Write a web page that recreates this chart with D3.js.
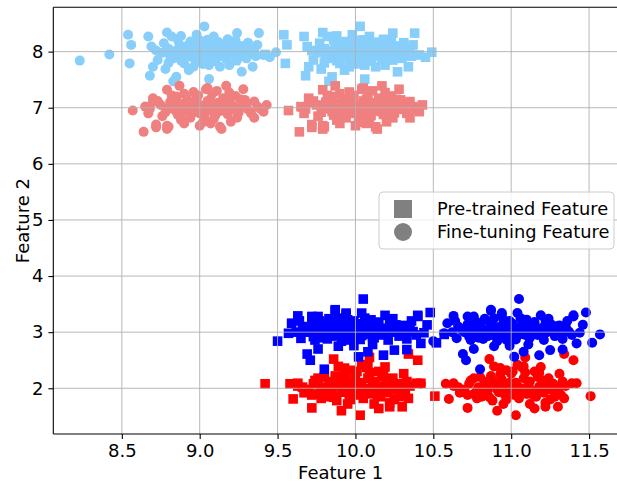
<!DOCTYPE html>
<html><head><meta charset="utf-8">
<script src="https://cdn.jsdelivr.net/npm/d3@7"></script>
<style>body{margin:0;background:#fff}svg{display:block}text{font-family:"DejaVu Sans",sans-serif}</style>
</head><body><svg id="c" width="617" height="483"></svg>
<script>
const xTicks = [8.5, 9.0, 9.5, 10.0, 10.5, 11.0, 11.5];
const yTicks = [2, 3, 4, 5, 6, 7, 8];
const legendLabels = ["Pre-trained Feature", "Fine-tuning Feature"];

const lsCircles = [[8.23,7.84],[8.42,7.95],[8.54,8.30],[8.56,8.12],[8.55,7.79],[8.67,8.27],[8.68,7.57],[8.69,8.09],[8.70,7.73],[8.79,8.34],[8.78,7.69],[8.82,8.27],[8.83,7.88],[8.85,7.55],[8.83,7.47],[8.92,8.09],[8.90,7.79],[8.98,8.30],[9.03,8.45],[9.06,7.51],[8.93,7.67],[9.00,7.94],[9.09,8.27],[9.13,7.73],[9.19,7.76],[9.24,8.33],[9.20,8.15],[9.27,7.64],[9.29,8.09],[9.34,7.73],[9.38,8.33],[9.37,8.12],[9.41,7.94],[9.45,7.90],[9.49,7.99],
[8.76,7.98],[8.80,8.05],[8.84,7.93],[8.87,8.12],[8.88,7.84],[8.91,8.00],[8.94,8.18],[8.95,7.90],[8.97,8.06],[8.99,7.82],[9.01,8.12],[9.02,8.00],[9.04,7.88],[9.05,8.21],[9.07,7.96],[9.08,8.08],[9.10,7.83],[9.11,8.02],[9.12,8.17],[9.14,7.92],[9.15,8.05],[9.17,7.87],[9.18,8.22],[9.21,7.98],[9.22,8.06],[9.24,7.85],[9.26,8.02],[9.28,7.93],[9.31,8.16],[9.33,7.97],[8.86,8.21],[8.81,7.92],[9.06,7.76],[8.96,7.73],[9.16,8.12],[9.09,7.92],[8.98,8.00],[9.03,8.16],[9.20,7.89],[9.35,8.03],[8.73,7.85],[8.89,7.96],
[8.72,8.02],[8.77,8.15],[8.80,7.80],[8.85,8.02],[8.88,8.28],[8.90,7.90],[8.93,8.12],[8.95,8.00],[8.97,7.95],[9.00,8.20],[9.02,7.78],[9.04,8.05],[9.07,8.13],[9.09,7.86],[9.11,7.96],[9.13,8.10],[9.16,7.98],[9.19,8.04],[9.23,8.20],[9.25,7.92],[9.27,8.10],[9.30,7.88],[9.32,8.05],[9.36,7.92],[8.99,8.08]];

const lsSquares = [[9.23,7.84],[9.42,7.95],[9.54,8.30],[9.56,8.12],[9.55,7.79],[9.67,8.27],[9.68,7.57],[9.69,8.09],[9.70,7.73],[9.79,8.34],[9.78,7.69],[9.82,8.27],[9.83,7.88],[9.85,7.55],[9.83,7.47],[9.92,8.09],[9.90,7.79],[9.98,8.30],[10.03,8.45],[10.06,7.51],[9.93,7.67],[10.00,7.94],[10.09,8.27],[10.13,7.73],[10.19,7.76],[10.24,8.33],[10.20,8.15],[10.27,7.64],[10.29,8.09],[10.34,7.73],[10.38,8.33],[10.37,8.12],[10.41,7.94],[10.45,7.90],[10.49,7.99],
[9.76,7.98],[9.80,8.05],[9.84,7.93],[9.87,8.12],[9.88,7.84],[9.91,8.00],[9.94,8.18],[9.95,7.90],[9.97,8.06],[9.99,7.82],[10.01,8.12],[10.02,8.00],[10.04,7.88],[10.05,8.21],[10.07,7.96],[10.08,8.08],[10.10,7.83],[10.11,8.02],[10.12,8.17],[10.14,7.92],[10.15,8.05],[10.17,7.87],[10.18,8.22],[10.21,7.98],[10.22,8.06],[10.24,7.85],[10.26,8.02],[10.28,7.93],[10.31,8.16],[10.33,7.97],[9.86,8.21],[9.81,7.92],[10.06,7.76],[9.96,7.73],[10.16,8.12],[10.09,7.92],[9.98,8.00],[10.03,8.16],[10.20,7.89],[10.35,8.03],[9.73,7.85],[9.89,7.96],
[9.72,8.02],[9.77,8.15],[9.80,7.80],[9.85,8.02],[9.88,8.28],[9.90,7.90],[9.93,8.12],[9.95,8.00],[9.97,7.95],[10.00,8.20],[10.02,7.78],[10.04,8.05],[10.07,8.13],[10.09,7.86],[10.11,7.96],[10.13,8.10],[10.16,7.98],[10.19,8.04],[10.23,8.20],[10.25,7.92],[10.27,8.10],[10.30,7.88],[10.32,8.05],[10.36,7.92],[9.99,8.08]];

const lcCircles = [[8.57,6.95],[8.64,6.57],[8.66,7.01],[8.67,6.90],[8.70,7.17],[8.72,6.65],[8.79,6.62],[8.79,7.32],[8.80,6.66],[8.87,7.39],[8.88,6.78],[9.04,7.33],[9.00,6.68],[9.14,6.62],[9.17,7.39],[9.20,6.75],[9.28,7.33],[9.29,7.14],[9.33,6.90],[9.35,7.11],[9.41,6.93],[9.43,7.05],[9.37,7.02],[8.65,7.02],[8.70,7.10],[8.72,6.70],[8.79,6.68],[8.88,6.83],[9.05,7.35],[9.13,6.66],[9.30,7.08],[9.39,6.98],
[8.75,7.05],[8.78,6.92],[8.81,7.10],[8.83,6.98],[8.85,7.20],[8.86,6.87],[8.89,7.04],[8.91,6.95],[8.92,7.15],[8.94,6.82],[8.96,7.08],[8.97,6.97],[8.99,7.22],[9.00,6.90],[9.02,7.03],[9.03,6.79],[9.05,7.12],[9.06,6.95],[9.08,7.25],[9.09,7.00],[9.10,6.86],[9.12,7.09],[9.13,6.94],[9.15,7.17],[9.16,7.02],[9.18,6.88],[9.20,7.06],[9.22,6.97],[9.23,7.21],[9.25,6.91],[9.27,7.02],[9.24,6.82],[8.90,6.72],[8.96,7.28],[9.07,6.72],[8.84,7.09],[9.11,7.30],[8.98,7.10],[9.01,6.97],[9.19,7.27],
[8.68,6.98],[8.73,7.12],[8.76,6.85],[8.80,7.00],[8.82,7.22],[8.85,6.93],[8.87,7.08],[8.90,7.25],[8.93,7.00],[8.95,6.90],[8.98,7.18],[9.00,7.05],[9.03,6.88],[9.05,7.00],[9.07,7.15],[9.09,6.80],[9.11,6.98],[9.14,7.05],[9.17,6.93],[9.19,7.12],[9.22,7.02],[9.26,7.15],[9.31,6.97],[9.35,6.82],[9.02,6.74]];

const lcSquares = [[9.57,6.95],[9.64,6.57],[9.66,7.01],[9.67,6.90],[9.70,7.17],[9.72,6.65],[9.79,6.62],[9.79,7.32],[9.80,6.66],[9.87,7.39],[9.88,6.78],[10.04,7.33],[10.00,6.68],[10.14,6.62],[10.17,7.39],[10.20,6.75],[10.28,7.33],[10.29,7.14],[10.33,6.90],[10.35,7.11],[10.41,6.93],[10.43,7.05],[10.37,7.02],[9.65,7.02],[9.70,7.10],[9.72,6.70],[9.79,6.68],[9.88,6.83],[10.05,7.35],[10.13,6.66],[10.30,7.08],[10.39,6.98],
[9.75,7.05],[9.78,6.92],[9.81,7.10],[9.83,6.98],[9.85,7.20],[9.86,6.87],[9.89,7.04],[9.91,6.95],[9.92,7.15],[9.94,6.82],[9.96,7.08],[9.97,6.97],[9.99,7.22],[10.00,6.90],[10.02,7.03],[10.03,6.79],[10.05,7.12],[10.06,6.95],[10.08,7.25],[10.09,7.00],[10.10,6.86],[10.12,7.09],[10.13,6.94],[10.15,7.17],[10.16,7.02],[10.18,6.88],[10.20,7.06],[10.22,6.97],[10.23,7.21],[10.25,6.91],[10.27,7.02],[10.24,6.82],[9.90,6.72],[9.96,7.28],[10.07,6.72],[9.84,7.09],[10.11,7.30],[9.98,7.10],[10.01,6.97],[10.19,7.27],
[9.68,6.98],[9.73,7.12],[9.76,6.85],[9.80,7.00],[9.82,7.22],[9.85,6.93],[9.87,7.08],[9.90,7.25],[9.93,7.00],[9.95,6.90],[9.98,7.18],[10.00,7.05],[10.03,6.88],[10.05,7.00],[10.07,7.15],[10.09,6.80],[10.11,6.98],[10.14,7.05],[10.17,6.93],[10.19,7.12],[10.22,7.02],[10.26,7.15],[10.31,6.97],[10.35,6.82],[10.02,6.74]];

const blueSquares = [[9.50,2.84],[9.59,3.16],[9.63,3.29],[9.66,3.10],[9.65,2.89],[9.69,2.61],[9.71,2.50],[9.72,3.28],[9.76,2.70],[9.80,2.34],[9.87,3.40],[9.94,3.31],[10.02,2.56],[10.05,3.59],[10.08,2.65],[10.18,2.59],[10.19,3.30],[10.25,2.68],[10.31,3.12],[10.33,2.69],[10.37,3.01],[10.40,3.30],[10.42,2.80],[10.48,3.35],[10.46,3.13],[10.52,2.81],[10.57,2.96],[9.76,3.28],[9.87,3.38],[9.94,3.34],[10.10,3.22],[10.22,3.22],[10.30,3.11],[10.40,3.28],[9.80,3.16],
[9.70,3.00],[9.73,2.92],[9.75,3.08],[9.78,2.98],[9.80,3.12],[9.82,2.88],[9.84,3.04],[9.86,3.18],[9.88,2.95],[9.90,3.09],[9.91,2.84],[9.93,3.02],[9.95,3.22],[9.96,2.93],[9.98,3.06],[10.00,2.98],[10.01,3.15],[10.03,2.87],[10.05,3.05],[10.06,3.25],[10.08,2.96],[10.10,3.10],[10.12,2.90],[10.13,3.03],[10.15,3.18],[10.17,2.95],[10.19,3.07],[10.21,2.86],[10.23,3.00],[10.26,3.13],[10.28,2.93],[10.30,3.02],[10.33,2.88],[10.35,3.10],[9.68,3.05],[9.62,3.00],[9.99,2.76],[10.11,2.78],[9.89,2.75],[10.04,3.34],[9.83,3.24],[10.24,3.24],[10.39,2.95],[10.44,2.99],[9.57,2.98],
[9.64,3.20],[9.72,3.14],[9.74,2.86],[9.77,3.20],[9.79,2.90],[9.81,3.02],[9.85,2.93],[9.87,3.08],[9.89,3.25],[9.92,2.98],[9.94,3.12],[9.97,2.86],[9.99,3.20],[10.02,3.08],[10.04,2.94],[10.07,3.15],[10.09,3.02],[10.11,2.92],[10.14,3.12],[10.16,3.03],[10.20,2.97],[10.22,3.14],[10.27,3.05],[10.32,2.96],[10.36,3.20]];

const blueCircles = [[10.50,2.84],[10.59,3.16],[10.63,3.29],[10.66,3.10],[10.65,2.89],[10.69,2.61],[10.71,2.50],[10.72,3.28],[10.76,2.70],[10.80,2.34],[10.87,3.40],[10.94,3.31],[11.02,2.56],[11.05,3.59],[11.08,2.65],[11.18,2.59],[11.19,3.30],[11.25,2.68],[11.31,3.12],[11.33,2.69],[11.37,3.01],[11.40,3.30],[11.42,2.80],[11.48,3.35],[11.46,3.13],[11.52,2.81],[11.57,2.96],[10.76,3.28],[10.87,3.38],[10.94,3.34],[11.10,3.22],[11.22,3.22],[11.30,3.11],[11.40,3.28],[10.80,3.16],
[10.70,3.00],[10.73,2.92],[10.75,3.08],[10.78,2.98],[10.80,3.12],[10.82,2.88],[10.84,3.04],[10.86,3.18],[10.88,2.95],[10.90,3.09],[10.91,2.84],[10.93,3.02],[10.95,3.22],[10.96,2.93],[10.98,3.06],[11.00,2.98],[11.01,3.15],[11.03,2.87],[11.05,3.05],[11.06,3.25],[11.08,2.96],[11.10,3.10],[11.12,2.90],[11.13,3.03],[11.15,3.18],[11.17,2.95],[11.19,3.07],[11.21,2.86],[11.23,3.00],[11.26,3.13],[11.28,2.93],[11.30,3.02],[11.33,2.88],[11.35,3.10],[10.68,3.05],[10.62,3.00],[10.99,2.76],[11.11,2.78],[10.89,2.75],[11.04,3.34],[10.83,3.24],[11.24,3.24],[11.39,2.95],[11.44,2.99],[10.57,2.98],
[10.64,3.20],[10.72,3.14],[10.74,2.86],[10.77,3.20],[10.79,2.90],[10.81,3.02],[10.85,2.93],[10.87,3.08],[10.89,3.25],[10.92,2.98],[10.94,3.12],[10.97,2.86],[10.99,3.20],[11.02,3.08],[11.04,2.94],[11.07,3.15],[11.09,3.02],[11.11,2.92],[11.14,3.12],[11.16,3.03],[11.20,2.97],[11.22,3.14],[11.27,3.05],[11.32,2.96],[11.36,3.20]];

const redSquares = [[9.42,2.08],[9.58,2.08],[9.60,1.81],[9.63,2.04],[9.72,1.65],[9.76,2.18],[9.78,1.82],[9.86,2.52],[9.91,1.60],[9.93,2.36],[10.03,1.52],[10.09,2.55],[10.07,2.37],[10.15,1.64],[10.22,1.74],[10.31,2.26],[10.32,1.88],[10.34,2.61],[10.35,2.04],[10.40,2.50],[10.42,2.09],[10.30,1.67],[10.51,1.86],[10.22,1.67],[10.34,1.82],[10.39,2.09],[9.63,2.09],[9.89,2.39],[10.01,2.30],[10.08,2.39],[10.18,2.27],[10.24,2.18],
[9.70,1.98],[9.73,2.08],[9.76,1.90],[9.79,2.02],[9.81,1.85],[9.83,2.12],[9.85,1.97],[9.87,2.22],[9.88,1.78],[9.90,2.05],[9.92,1.93],[9.94,2.15],[9.96,1.88],[9.98,2.02],[10.00,2.26],[10.01,1.95],[10.03,2.10],[10.05,1.82],[10.06,2.00],[10.08,2.18],[10.10,1.90],[10.11,2.07],[10.13,1.97],[10.15,2.30],[10.16,1.85],[10.18,2.03],[10.20,2.14],[10.21,1.92],[10.23,2.00],[10.25,1.80],[10.27,2.08],[10.29,1.95],[10.33,2.12],[9.67,1.92],[9.95,1.72],[10.12,1.72],[10.04,2.42],[9.97,2.32],[10.19,2.38],[10.26,1.97],
[9.66,2.02],[9.72,1.88],[9.74,2.14],[9.78,1.96],[9.80,2.20],[9.82,1.92],[9.84,2.05],[9.86,1.84],[9.89,2.12],[9.91,1.98],[9.93,2.25],[9.95,2.00],[9.97,1.80],[9.99,2.10],[10.02,1.88],[10.04,2.04],[10.07,1.93],[10.09,2.28],[10.12,2.12],[10.14,1.88],[10.17,2.20],[10.19,1.96],[10.24,2.10],[10.28,1.85],[10.31,2.02]];

const redCircles = [[10.42,2.08],[10.58,2.08],[10.60,1.81],[10.63,2.04],[10.72,1.65],[10.76,2.18],[10.78,1.82],[10.86,2.52],[10.91,1.60],[10.93,2.36],[11.03,1.52],[11.09,2.55],[11.07,2.37],[11.15,1.64],[11.22,1.74],[11.31,2.26],[11.32,1.88],[11.34,2.61],[11.35,2.04],[11.40,2.50],[11.42,2.09],[11.30,1.67],[11.51,1.86],[11.22,1.67],[11.34,1.82],[11.39,2.09],[10.63,2.09],[10.89,2.39],[11.01,2.30],[11.08,2.39],[11.18,2.27],[11.24,2.18],
[10.70,1.98],[10.73,2.08],[10.76,1.90],[10.79,2.02],[10.81,1.85],[10.83,2.12],[10.85,1.97],[10.87,2.22],[10.88,1.78],[10.90,2.05],[10.92,1.93],[10.94,2.15],[10.96,1.88],[10.98,2.02],[11.00,2.26],[11.01,1.95],[11.03,2.10],[11.05,1.82],[11.06,2.00],[11.08,2.18],[11.10,1.90],[11.11,2.07],[11.13,1.97],[11.15,2.30],[11.16,1.85],[11.18,2.03],[11.20,2.14],[11.21,1.92],[11.23,2.00],[11.25,1.80],[11.27,2.08],[11.29,1.95],[11.33,2.12],[10.67,1.92],[10.95,1.72],[11.12,1.72],[11.04,2.42],[10.97,2.32],[11.19,2.38],[11.26,1.97],
[10.66,2.02],[10.72,1.88],[10.74,2.14],[10.78,1.96],[10.80,2.20],[10.82,1.92],[10.84,2.05],[10.86,1.84],[10.89,2.12],[10.91,1.98],[10.93,2.25],[10.95,2.00],[10.97,1.80],[10.99,2.10],[11.02,1.88],[11.04,2.04],[11.07,1.93],[11.09,2.28],[11.12,2.12],[11.14,1.88],[11.17,2.20],[11.19,1.96],[11.24,2.10],[11.28,1.85],[11.31,2.02]];

const series = [
  {data: lsSquares, shape: "square", color: "#87cefa"},
  {data: lsCircles, shape: "circle", color: "#87cefa"},
  {data: lcSquares, shape: "square", color: "#f08080"},
  {data: lcCircles, shape: "circle", color: "#f08080"},
  {data: redCircles, shape: "circle", color: "#ff0000"},
  {data: redSquares, shape: "square", color: "#ff0000"},
  {data: blueCircles, shape: "circle", color: "#0000ff"},
  {data: blueSquares, shape: "square", color: "#0000ff"}
];

const W = 617, H = 483;
const L = 53.3, R = 628, T = 7.3, B = 434;
const x = d3.scaleLinear().domain([8.06, 11.75]).range([L, R]);
const y = d3.scaleLinear().domain([1.185, 8.79]).range([B, T]);
const svg = d3.select("#c");
svg.append("rect").attr("width", W).attr("height", H).attr("fill", "#fff");

const clip = svg.append("clipPath").attr("id", "clip");
clip.append("rect").attr("x", L).attr("y", T).attr("width", R - L).attr("height", B - T);
const plot = svg.append("g").attr("clip-path", "url(#clip)");

const SQ = 9.6, CR = 5.0;
series.forEach(s => {
  const g = plot.append("g");
  if (s.shape === "circle") {
    g.selectAll("circle").data(s.data).join("circle")
      .attr("cx", d => x(d[0])).attr("cy", d => y(d[1])).attr("r", CR)
      .attr("fill", s.color);
  } else {
    g.selectAll("rect").data(s.data).join("rect")
      .attr("x", d => x(d[0]) - SQ / 2).attr("y", d => y(d[1]) - SQ / 2)
      .attr("width", SQ).attr("height", SQ).attr("fill", s.color);
  }
});

// grid (drawn above points, as in reference)
const grid = plot.append("g").attr("stroke", "#b0b0b0").attr("stroke-width", 0.9);
grid.selectAll(".gx").data(xTicks).join("line")
  .attr("x1", d => x(d)).attr("x2", d => x(d)).attr("y1", T).attr("y2", B);
grid.selectAll(".gy").data(yTicks).join("line")
  .attr("y1", d => y(d)).attr("y2", d => y(d)).attr("x1", L).attr("x2", R);

// axes
const fs = "18px";
const xAxis = svg.append("g").attr("transform", `translate(0,${B})`)
  .call(d3.axisBottom(x).tickValues(xTicks).tickFormat(d3.format(".1f")).tickSize(4.9).tickPadding(4.9).tickSizeOuter(0));
const yAxis = svg.append("g").attr("transform", `translate(${L},0)`)
  .call(d3.axisLeft(y).tickValues(yTicks).tickFormat(d3.format("d")).tickSize(4.9).tickPadding(4.9).tickSizeOuter(0));
[xAxis, yAxis].forEach(a => {
  a.select(".domain").remove();
  a.selectAll("line").attr("stroke", "#000").attr("stroke-width", 1.1);
  a.selectAll("text").attr("font-family", "DejaVu Sans").attr("font-size", fs).attr("fill", "#000");
});
// spines
svg.append("line").attr("x1", L).attr("x2", L).attr("y1", T).attr("y2", B).attr("stroke", "#000").attr("stroke-width", 1.1);
svg.append("line").attr("x1", L).attr("x2", R).attr("y1", B).attr("y2", B).attr("stroke", "#000").attr("stroke-width", 1.1);
svg.append("line").attr("x1", L).attr("x2", R).attr("y1", T).attr("y2", T).attr("stroke", "#000").attr("stroke-width", 1.1);

svg.append("text").attr("x", (L + R) / 2).attr("y", 479).attr("text-anchor", "middle")
  .attr("font-size", fs).text("Feature 1");
svg.append("text").attr("transform", `translate(29,${(T + B) / 2}) rotate(-90)`).attr("text-anchor", "middle")
  .attr("font-size", fs).text("Feature 2");

// legend
const lg = svg.append("g");
lg.append("rect").attr("x", 379).attr("y", 192).attr("width", 235).attr("height", 57).attr("rx", 4)
  .attr("fill", "#fff").attr("fill-opacity", 0.8).attr("stroke", "#cccccc").attr("stroke-width", 1);
lg.append("rect").attr("x", 403 - 9).attr("y", 209 - 9).attr("width", 18).attr("height", 18).attr("fill", "#808080");
lg.append("circle").attr("cx", 403).attr("cy", 232).attr("r", 9).attr("fill", "#808080");
lg.selectAll(".lt").data(legendLabels).join("text")
  .attr("x", 437).attr("y", (d, i) => [209, 232][i]).attr("dy", "0.35em")
  .attr("font-size", "17.8px").text(d => d);
</script></body></html>
